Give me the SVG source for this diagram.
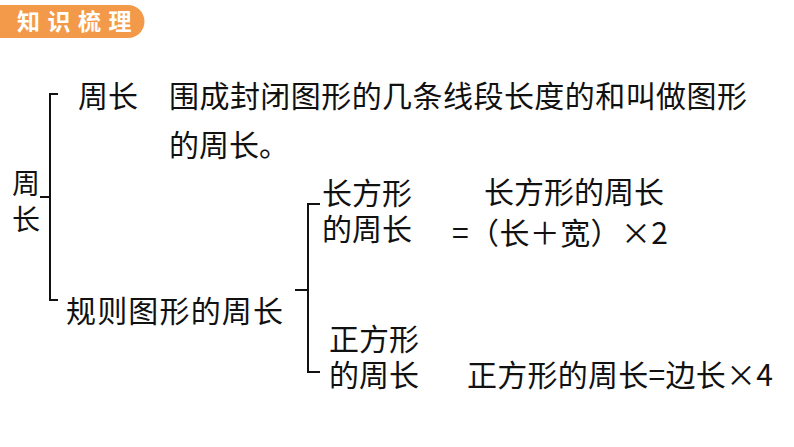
<svg xmlns="http://www.w3.org/2000/svg" width="794" height="447" viewBox="0 0 794 447">
<style>
.t{font-family:"Noto Sans CJK SC","Liberation Sans",sans-serif;font-size:30px;fill:#111}
.b{fill:none;stroke:#111;stroke-width:2}
.h{font-family:"Noto Sans CJK SC","Liberation Sans",sans-serif;font-size:23px;font-weight:bold;fill:#fff;letter-spacing:7.5px}
</style>
<rect width="794" height="447" fill="#fff"/>
<g id="header">
<path d="M0 5 H128 A16.5 16.5 0 0 1 128 38 H0 Z" fill="#F39A4A"/>
<text class="h" x="17" y="30">知识梳理</text>
</g>
<g id="connectors">
<path class="b" d="M58 94 H50 V300 H58 M50 197 H40"/>
<path class="b" d="M320 204 H308 V372 H320 M308 290 H295"/>
</g>
<g id="root">
<text class="t" style="font-size:28px"><tspan x="12" y="194">周</tspan><tspan x="12" y="230">长</tspan></text>
</g>
<g id="def-label"><text class="t" x="78" y="107">周长</text></g>
<g id="def-text">
<text class="t"><tspan x="169" y="107" textLength="578" lengthAdjust="spacing">围成封闭图形的几条线段长度的和叫做图形</tspan><tspan x="169" y="156">的周长。</tspan></text>
</g>
<g id="regular"><text class="t" x="66" y="322" textLength="217" lengthAdjust="spacing">规则图形的周长</text></g>
<g id="rect">
<text class="t"><tspan x="322" y="204">长方形</tspan><tspan x="322" y="240">的周长</tspan></text>
</g>
<g id="rect-formula">
<text class="t" x="484" y="203">长方形的周长</text>
<text class="t" x="452" y="244" textLength="216" lengthAdjust="spacing">=（长＋宽）×2</text>
</g>
<g id="square">
<text class="t"><tspan x="329" y="350">正方形</tspan><tspan x="329" y="386">的周长</tspan></text>
</g>
<g id="square-formula">
<text class="t" x="467" y="386" textLength="306" lengthAdjust="spacing">正方形的周长=边长×4</text>
</g>
</svg>
